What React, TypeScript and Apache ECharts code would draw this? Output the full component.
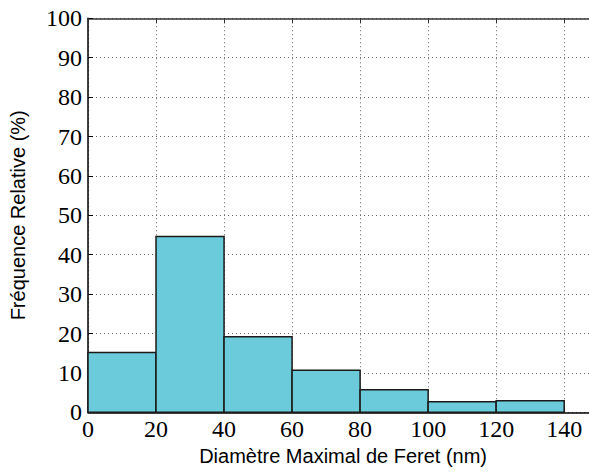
import React, { useEffect, useRef } from "react";
import * as echarts from "echarts";

const binStarts = [0, 20, 40, 60, 80, 100, 120];
const binEnds = [20, 40, 60, 80, 100, 120, 140];
const frequencies = [15.2, 44.6, 19.2, 10.7, 5.7, 2.7, 2.9];
const xTicks = [0, 20, 40, 60, 80, 100, 120, 140];
const yTicks = [0, 10, 20, 30, 40, 50, 60, 70, 80, 90, 100];

export default function App() {
  const ref = useRef<HTMLDivElement>(null);
  useEffect(() => {
    if (!ref.current) return;
    const chart = echarts.init(ref.current, null, { renderer: "svg" });
    const data = binStarts.map((s, i) => [s, binEnds[i], frequencies[i]]);
    const serif = "Liberation Serif";
    const sans = "Liberation Sans";
    chart.setOption({
      animation: false,
      backgroundColor: "#ffffff",
      grid: { left: 86.7, top: 18.3, bottom: 61.7, right: 1.8, containLabel: false },
      xAxis: [
        {
          type: "value",
          min: 0,
          max: 150,
          interval: 20,
          position: "bottom",
          name: "Diamètre Maximal de Feret (nm)",
          nameLocation: "middle",
          nameGap: 34,
          nameTextStyle: { fontFamily: sans, fontSize: 20, color: "#000" },
          axisLine: { show: true, lineStyle: { color: "#000", width: 1.5 } },
          axisTick: { show: true, inside: true, length: 5, lineStyle: { color: "#000" } },
          axisLabel: {
            fontFamily: serif,
            fontSize: 24,
            color: "#000",
            margin: 5,
            showMaxLabel: false,
            formatter: (v: number) => (xTicks.includes(v) ? String(v) : ""),
          },
          splitLine: { show: true, lineStyle: { color: "#666", type: [1, 3], width: 1 } },
        },
        {
          type: "value",
          min: 0,
          max: 150,
          interval: 20,
          position: "top",
          axisLine: { show: true, onZero: false, lineStyle: { color: "#333", width: 1.5 } },
          axisTick: { show: true, inside: true, length: 5, lineStyle: { color: "#333" } },
          axisLabel: { show: false },
          splitLine: { show: false },
        },
      ],
      yAxis: {
        type: "value",
        min: 0,
        max: 100,
        interval: 10,
        name: "Fréquence Relative (%)",
        nameLocation: "middle",
        nameGap: 60,
        nameTextStyle: { fontFamily: sans, fontSize: 20, color: "#000" },
        axisLine: { show: true, lineStyle: { color: "#000", width: 1.5 } },
        axisTick: { show: true, inside: true, length: 5, lineStyle: { color: "#000" } },
        axisLabel: {
          fontFamily: serif,
          fontSize: 24,
          color: "#000",
          margin: 6,
          formatter: (v: number) => (yTicks.includes(v) ? String(v) : ""),
        },
        splitLine: { show: true, lineStyle: { color: "#666", type: [1, 3], width: 1 } },
      },
      series: [
        {
          type: "custom",
          xAxisIndex: 0,
          yAxisIndex: 0,
          data,
          encode: { x: [0, 1], y: 2 },
          renderItem: (params: any, api: any) => {
            const p0 = api.coord([api.value(0), api.value(2)]);
            const p1 = api.coord([api.value(1), 0]);
            return {
              type: "rect",
              shape: { x: p0[0], y: p0[1], width: p1[0] - p0[0], height: p1[1] - p0[1] },
              style: { fill: "#6BCBDA", stroke: "#1a1a1a", lineWidth: 1.5 },
            };
          },
        },
      ],
    });
    return () => chart.dispose();
  }, []);
  return (
    <div style={{ position: "fixed", left: 0, top: 0, width: 589, height: 474, overflow: "hidden" }}>
      <div ref={ref} style={{ width: 600, height: 474 }} />
    </div>
  );
}
